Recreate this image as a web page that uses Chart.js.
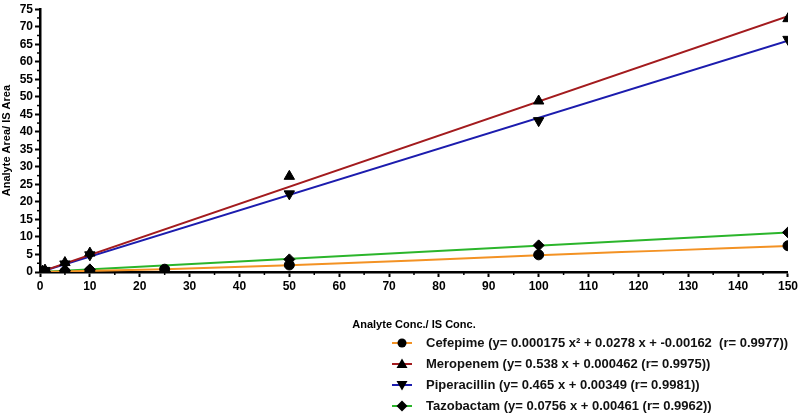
<!DOCTYPE html>
<html>
<head>
<meta charset="utf-8">
<script src="https://cdn.jsdelivr.net/npm/chart.js@4"></script>
<style>
  html, body { margin: 0; padding: 0; background: #fff; }
  #wrap { position: relative; width: 800px; height: 413px; }
  #c { position: absolute; left: 0; top: 0; }
  #legend { position: absolute; left: 390px; top: 332px; font-family: "Liberation Sans", Arial, sans-serif; font-weight: bold; font-size: 13px; color: #111; }
  .row { height: 21px; display: flex; align-items: center; white-space: pre; }
  .row svg { margin-right: 12px; }
</style>
</head>
<body>
<div id="wrap">
  <canvas id="c" width="800" height="413"></canvas>
  <div id="legend"></div>
</div>
<script>
// ---- data ----
const seriesNames = ["Cefepime", "Meropenem", "Piperacillin", "Tazobactam"];
const legendLabels = [
  "Cefepime (y= 0.000175 x\u00B2 + 0.0278 x + -0.00162  (r= 0.9977))",
  "Meropenem (y= 0.538 x + 0.000462 (r= 0.9975))",
  "Piperacillin (y= 0.465 x + 0.00349 (r= 0.9981))",
  "Tazobactam (y= 0.0756 x + 0.00461 (r= 0.9962))"
];
const cefepimeX = [0.5, 1, 5, 10, 25, 50, 100, 150];
const cefepimeY = [0.01, 0.03, 0.15, 0.3, 0.8, 2.0, 4.9, 7.5];
const otherX = [0.5, 1, 5, 10, 50, 100, 150];
const meropenemY = [0.25, 0.55, 2.7, 5.4, 27.3, 48.8, 72.3];
const piperacillinY = [0.2, 0.45, 2.3, 4.9, 22.3, 43.2, 66.4];
const tazobactamY = [0.04, 0.08, 0.4, 0.75, 3.6, 7.6, 11.3];
// fitted curves
const cefFitX = [0, 25, 50, 75, 100, 125, 150];
const cefFitY = [0, 0.8, 1.9, 3.25, 4.8, 6.1, 7.4];
const linFitX = [0, 150];
const meropenemFitY = [0.0, 73.0];
const piperacillinFitY = [0.0, 66.0];
const tazobactamFitY = [0.0, 11.3];
const xMinorTicks = [5, 15, 25, 35, 45, 55, 65, 75, 85, 95, 105, 115, 125, 135, 145];
const yMinorTicks = [2.5, 7.5, 12.5, 17.5, 22.5, 27.5, 32.5, 37.5, 42.5, 47.5, 52.5, 57.5, 62.5, 67.5, 72.5];

const colors = ["#F39224", "#A31B1E", "#1C1CAE", "#2BB52B"];
const markers = [
  { style: "circle", rot: 0, r: 5 },
  { style: "triangle", rot: 0, r: 6 },
  { style: "triangle", rot: 180, r: 6 },
  { style: "rectRot", rot: 0, r: 5.5 }
];

const zip = (xs, ys) => xs.map((x, i) => ({ x: x, y: ys[i] }));
const pointSets = [zip(cefepimeX, cefepimeY), zip(otherX, meropenemY), zip(otherX, piperacillinY), zip(otherX, tazobactamY)];
const fitSets = [zip(cefFitX, cefFitY), zip(linFitX, meropenemFitY), zip(linFitX, piperacillinFitY), zip(linFitX, tazobactamFitY)];

const datasets = [];
fitSets.forEach((d, i) => datasets.push({
  label: seriesNames[i] + " fit", data: d, showLine: true, borderColor: colors[i],
  borderWidth: 2, pointRadius: 0, tension: i === 0 ? 0.4 : 0, cubicInterpolationMode: "monotone", order: 2
}));
pointSets.forEach((d, i) => datasets.push({
  label: seriesNames[i], data: d, showLine: false, pointStyle: markers[i].style,
  rotation: markers[i].rot, pointRadius: markers[i].r, backgroundColor: "#000", borderColor: "#000",
  borderWidth: 1, order: 1
}));

const minorTicks = {
  id: "minorTicks",
  afterDraw(chart) {
    const ctx = chart.ctx, xs = chart.scales.x, ys = chart.scales.y;
    ctx.save();
    ctx.strokeStyle = "#000"; ctx.lineWidth = 1.5;
    xMinorTicks.forEach(v => { const p = xs.getPixelForValue(v); ctx.beginPath(); ctx.moveTo(p, xs.top); ctx.lineTo(p, xs.top + 3); ctx.stroke(); });
    yMinorTicks.forEach(v => { const p = ys.getPixelForValue(v); ctx.beginPath(); ctx.moveTo(ys.right, p); ctx.lineTo(ys.right - 3, p); ctx.stroke(); });
    ctx.restore();
  }
};

const tickFont = { family: "'Liberation Sans', Arial, sans-serif", size: 12, weight: "bold" };
new Chart(document.getElementById("c"), {
  type: "scatter",
  data: { datasets: datasets },
  plugins: [minorTicks],
  options: {
    responsive: false, animation: false,
    layout: { padding: { top: 0, right: 10, bottom: 81, left: 0 } },
    plugins: { legend: { display: false }, tooltip: { enabled: false } },
    scales: {
      x: {
        type: "linear", min: 0, max: 150,
        ticks: { stepSize: 10, color: "#000", font: tickFont, padding: 2, maxRotation: 0 },
        grid: { drawOnChartArea: false, drawTicks: true, tickLength: 5, tickWidth: 2, tickColor: "#000" },
        border: { color: "#000", width: 2.5 },
        title: { display: true, text: "Analyte Conc./ IS Conc.", color: "#000", font: { family: "'Liberation Sans', Arial, sans-serif", size: 11, weight: "bold" }, padding: { top: 12, bottom: 0 } },
        afterFit: s => { s.height = 60; }
      },
      y: {
        type: "linear", min: 0, max: 75,
        ticks: { stepSize: 5, color: "#000", font: tickFont, padding: 2 },
        grid: { drawOnChartArea: false, drawTicks: true, tickLength: 5, tickWidth: 2, tickColor: "#000" },
        border: { color: "#000", width: 2.5 },
        title: { display: true, text: "Analyte Area/ IS Area", color: "#000", font: { family: "'Liberation Sans', Arial, sans-serif", size: 11, weight: "bold" }, padding: { top: 0, bottom: 0 } },
        afterFit: s => { s.width = 40; }
      }
    }
  }
});

// HTML legend
const lg = document.getElementById("legend");
legendLabels.forEach((txt, i) => {
  const row = document.createElement("div");
  row.className = "row";
  let mk;
  if (i === 0) mk = '<circle cx="12" cy="7" r="4.5" fill="#000"/>';
  else if (i === 1) mk = '<polygon points="12,1.5 17.5,11 6.5,11" fill="#000"/>';
  else if (i === 2) mk = '<polygon points="6.5,3 17.5,3 12,12.5" fill="#000"/>';
  else mk = '<polygon points="12,1.5 17.5,7 12,12.5 6.5,7" fill="#000"/>';
  row.innerHTML = '<svg width="24" height="14"><line x1="2" y1="7" x2="22" y2="7" stroke="' + colors[i] + '" stroke-width="2"/>' + mk + '</svg>';
  const sp = document.createElement("span");
  sp.textContent = txt;
  row.appendChild(sp);
  lg.appendChild(row);
});
</script>
</body>
</html>
